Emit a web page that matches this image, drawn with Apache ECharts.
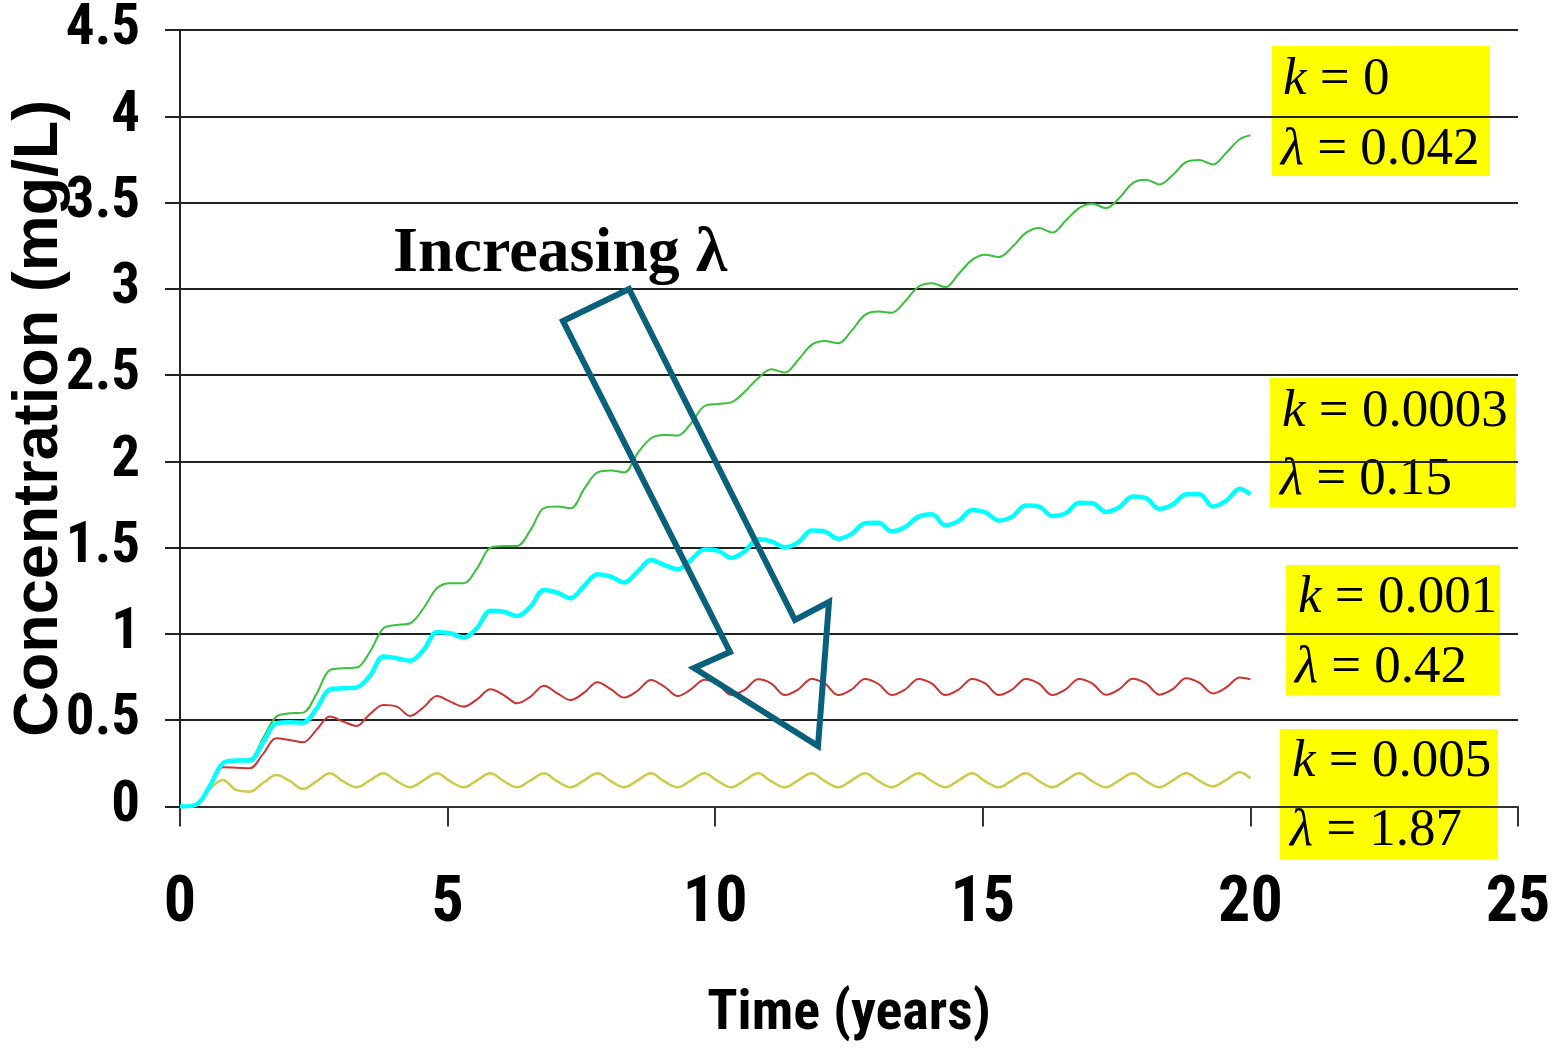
<!DOCTYPE html>
<html>
<head>
<meta charset="utf-8">
<script src="https://cdn.jsdelivr.net/npm/echarts/dist/echarts.min.js"></script>
<style>
html,body{margin:0;padding:0;background:#ffffff;}
#chart{width:1557px;height:1052px;}
</style>
</head>
<body>
<div id="chart"></div>
<script>
// ---- data ----
const time = [
  0, 0.3, 0.55, 0.8,
  1.05, 1.3, 1.55, 1.8,
  2.05, 2.3, 2.55, 2.8,
  3.05, 3.3, 3.55, 3.8,
  4.05, 4.3, 4.55, 4.8,
  5.05, 5.3, 5.55, 5.8,
  6.05, 6.3, 6.55, 6.8,
  7.05, 7.3, 7.55, 7.8,
  8.05, 8.3, 8.55, 8.8,
  9.05, 9.3, 9.55, 9.8,
  10.05, 10.3, 10.55, 10.8,
  11.05, 11.3, 11.55, 11.8,
  12.05, 12.3, 12.55, 12.8,
  13.05, 13.3, 13.55, 13.8,
  14.05, 14.3, 14.55, 14.8,
  15.05, 15.3, 15.55, 15.8,
  16.05, 16.3, 16.55, 16.8,
  17.05, 17.3, 17.55, 17.8,
  18.05, 18.3, 18.55, 18.8,
  19.05, 19.3, 19.55, 19.8,
  20.0
];

// k = 0, lambda = 0.042
const concK0 = [
  0, 0.01, 0.115, 0.254,
  0.27, 0.273, 0.395, 0.521,
  0.54, 0.544, 0.652, 0.791,
  0.801, 0.805, 0.897, 1.033,
  1.052, 1.062, 1.149, 1.265,
  1.294, 1.294, 1.38, 1.5,
  1.51, 1.51, 1.603, 1.729,
  1.738, 1.729, 1.839, 1.936,
  1.947, 1.936, 2.047, 2.134,
  2.153, 2.15, 2.221, 2.321,
  2.333, 2.342, 2.403, 2.482,
  2.534, 2.515, 2.588, 2.675,
  2.697, 2.685, 2.758, 2.849,
  2.868, 2.862, 2.928, 3.013,
  3.033, 3.01, 3.087, 3.168,
  3.197, 3.184, 3.242, 3.323,
  3.352, 3.326, 3.396, 3.468,
  3.493, 3.468, 3.526, 3.613,
  3.632, 3.605, 3.66, 3.735,
  3.747, 3.72, 3.789, 3.867,
  3.89
];

// k = 0.0003, lambda = 0.15
const concK0003 = [
  0, 0.01, 0.115, 0.25,
  0.266, 0.266, 0.37, 0.482,
  0.488, 0.486, 0.567, 0.679,
  0.685, 0.69, 0.758, 0.869,
  0.859, 0.845, 0.907, 1.01,
  1.004, 0.979, 1.035, 1.135,
  1.129, 1.104, 1.158, 1.255,
  1.24, 1.207, 1.278, 1.346,
  1.332, 1.298, 1.361, 1.429,
  1.40, 1.375, 1.431, 1.49,
  1.483, 1.441, 1.479, 1.549,
  1.537, 1.502, 1.531, 1.599,
  1.593, 1.552, 1.58, 1.642,
  1.644, 1.595, 1.62, 1.68,
  1.694, 1.63, 1.655, 1.719,
  1.705, 1.657, 1.68, 1.744,
  1.738, 1.684, 1.699, 1.761,
  1.758, 1.707, 1.734, 1.796,
  1.787, 1.725, 1.75, 1.81,
  1.81, 1.739, 1.773, 1.841,
  1.809
];

// k = 0.001, lambda = 0.42
const concK001 = [
  0, 0.01, 0.115, 0.227,
  0.225, 0.221, 0.304, 0.395,
  0.385, 0.372, 0.444, 0.521,
  0.492, 0.467, 0.536, 0.588,
  0.579, 0.525, 0.575, 0.641,
  0.608, 0.579, 0.621, 0.679,
  0.646, 0.598, 0.637, 0.70,
  0.656, 0.617, 0.66, 0.72,
  0.68, 0.631, 0.671, 0.733,
  0.695, 0.64, 0.68, 0.735,
  0.71, 0.646, 0.676, 0.737,
  0.712, 0.646, 0.678, 0.739,
  0.712, 0.646, 0.678, 0.739,
  0.71, 0.646, 0.678, 0.739,
  0.712, 0.646, 0.678, 0.739,
  0.712, 0.646, 0.678, 0.739,
  0.712, 0.646, 0.679, 0.739,
  0.712, 0.648, 0.68, 0.741,
  0.714, 0.648, 0.68, 0.743,
  0.716, 0.655, 0.69, 0.747,
  0.737
];

// k = 0.005, lambda = 1.87
const concK005 = [
  0, 0.01, 0.10, 0.154,
  0.096, 0.086, 0.136, 0.183,
  0.148, 0.101, 0.146, 0.192,
  0.145, 0.111, 0.152, 0.192,
  0.147, 0.111, 0.152, 0.192,
  0.145, 0.111, 0.152, 0.192,
  0.147, 0.111, 0.152, 0.192,
  0.145, 0.111, 0.152, 0.192,
  0.147, 0.111, 0.152, 0.192,
  0.145, 0.111, 0.152, 0.192,
  0.147, 0.111, 0.152, 0.192,
  0.145, 0.111, 0.152, 0.192,
  0.147, 0.111, 0.152, 0.192,
  0.145, 0.111, 0.152, 0.192,
  0.147, 0.111, 0.152, 0.192,
  0.145, 0.111, 0.152, 0.192,
  0.147, 0.111, 0.152, 0.192,
  0.145, 0.111, 0.152, 0.192,
  0.147, 0.111, 0.152, 0.192,
  0.150, 0.117, 0.155, 0.198,
  0.164
];

const xTicks = { min: 0, max: 25, interval: 5 };
const yTicks = { min: 0, max: 4.5, interval: 0.5 };

const labelK = ['k = 0', 'k = 0.0003', 'k = 0.001', 'k = 0.005'];
const labelLambda = ['λ = 0.042', 'λ = 0.15', 'λ = 0.42', 'λ = 1.87'];
const xTitle = 'Time (years)';
const yTitle = 'Concentration (mg/L)';
const arrowText = 'Increasing λ';

// ---- chart ----
const SANS = '"Liberation Sans Narrow", "Roboto Condensed", "Liberation Sans", Arial, sans-serif';
const SERIF = '"Liberation Serif", "Times New Roman", serif';

function pairs(arr) { return time.map((t, i) => [t, arr[i]]); }

const boxes = [
  { x: 1272, y: 46,  w: 218, h: 130, r1: 80,  r2: 150, tx1: 1283, tx2: 1281 },
  { x: 1270, y: 378, w: 246, h: 129, r1: 412, r2: 480, tx1: 1282, tx2: 1280 },
  { x: 1286, y: 565, w: 214, h: 130, r1: 598, r2: 668, tx1: 1298, tx2: 1295 },
  { x: 1280, y: 729, w: 218, h: 130, r1: 762, r2: 831, tx1: 1292, tx2: 1290 }
];

function mathText(str) {
  const sym = str.charAt(0);
  const rest = str.slice(1);
  return '{i|' + sym + '}{r|' + rest + '}';
}
const richStyle = {
  i: { fontFamily: SERIF, fontSize: 53, fontStyle: 'italic', fill: '#000', color: '#000' },
  r: { fontFamily: SERIF, fontSize: 53, fill: '#000', color: '#000' }
};

const graphics = [];
boxes.forEach((b, idx) => {
  graphics.push({
    type: 'rect', z: -10, silent: true,
    shape: { x: b.x, y: b.y, width: b.w, height: b.h },
    style: { fill: '#ffff00' }
  });
  graphics.push({
    type: 'text', z: -9, silent: true, x: b.tx1, y: b.r1,
    style: { text: mathText(labelK[idx]), rich: richStyle, verticalAlign: 'middle', align: 'left',
             fontFamily: SERIF, fontSize: 53, fill: '#000' }
  });
  graphics.push({
    type: 'text', z: -9, silent: true, x: b.tx2, y: b.r2,
    style: { text: mathText(labelLambda[idx]), rich: richStyle, verticalAlign: 'middle', align: 'left',
             fontFamily: SERIF, fontSize: 53, fill: '#000' }
  });
});
graphics.push({
  type: 'polygon', z: 100, silent: true,
  shape: { points: [[563, 321], [629, 289], [795, 620], [829, 602], [818, 746], [694, 668], [730, 652]] },
  style: { fill: 'none', stroke: '#08607a', lineWidth: 6, lineJoin: 'miter' }
});
graphics.push({
  type: 'text', z: 100, silent: true, x: 393, y: 254,
  style: { text: arrowText, fontFamily: SERIF, fontWeight: 'bold', fontSize: 64, fill: '#000',
           verticalAlign: 'middle', align: 'left' }
});

const chart = echarts.init(document.getElementById('chart'), null, { renderer: 'canvas' });
chart.setOption({
  animation: false,
  backgroundColor: '#ffffff',
  grid: { left: 180, right: 39, top: 30, bottom: 245.5, containLabel: false, outerBoundsMode: 'none' },
  xAxis: {
    type: 'value', min: xTicks.min, max: xTicks.max, interval: xTicks.interval,
    name: xTitle, nameLocation: 'middle', nameGap: 180, nameMoveOverlap: false,
    nameTextStyle: { fontFamily: SANS, fontWeight: 'bold', fontSize: 56, color: '#000' },
    axisLine: { show: true, onZero: false, lineStyle: { color: '#333', width: 2 } },
    axisTick: { show: true, inside: false, length: 20, lineStyle: { color: '#333', width: 2 } },
    axisLabel: { margin: 66, fontFamily: SANS, fontWeight: 'bold', fontSize: 64, color: '#000' },
    splitLine: { show: false }
  },
  yAxis: {
    type: 'value', min: yTicks.min, max: yTicks.max, interval: yTicks.interval,
    name: yTitle, nameLocation: 'middle', nameGap: 109, nameMoveOverlap: false,
    nameTextStyle: { fontFamily: '"Liberation Sans", Arial, sans-serif', fontWeight: 'bold', fontSize: 63, color: '#000' },
    axisLine: { show: true, lineStyle: { color: '#222', width: 2 } },
    axisTick: { show: true, inside: false, length: 15, lineStyle: { color: '#222', width: 2 } },
    axisLabel: { margin: 40, fontFamily: SANS, fontWeight: 'bold', fontSize: 57, color: '#000' },
    splitLine: { show: true, lineStyle: { color: '#222', width: 2 } }
  },
  series: [
    { name: 'k = 0, λ = 0.042', type: 'line', data: pairs(concK0), showSymbol: false, smooth: 0.35,
      lineStyle: { color: '#3cbf3c', width: 2 }, itemStyle: { color: '#3cbf3c' }, z: 3 },
    { name: 'k = 0.001, λ = 0.42', type: 'line', data: pairs(concK001), showSymbol: false, smooth: 0.35,
      lineStyle: { color: '#cc3333', width: 2 }, itemStyle: { color: '#cc3333' }, z: 3 },
    { name: 'k = 0.005, λ = 1.87', type: 'line', data: pairs(concK005), showSymbol: false, smooth: 0.35,
      lineStyle: { color: '#cfc94a', width: 2.5 }, itemStyle: { color: '#cfc94a' }, z: 3 },
    { name: 'k = 0.0003, λ = 0.15', type: 'line', data: pairs(concK0003), showSymbol: false, smooth: 0.35,
      lineStyle: { color: '#00ffff', width: 4.5 }, itemStyle: { color: '#00ffff' }, z: 4 }
  ],
  graphic: graphics
});
</script>
</body>
</html>
